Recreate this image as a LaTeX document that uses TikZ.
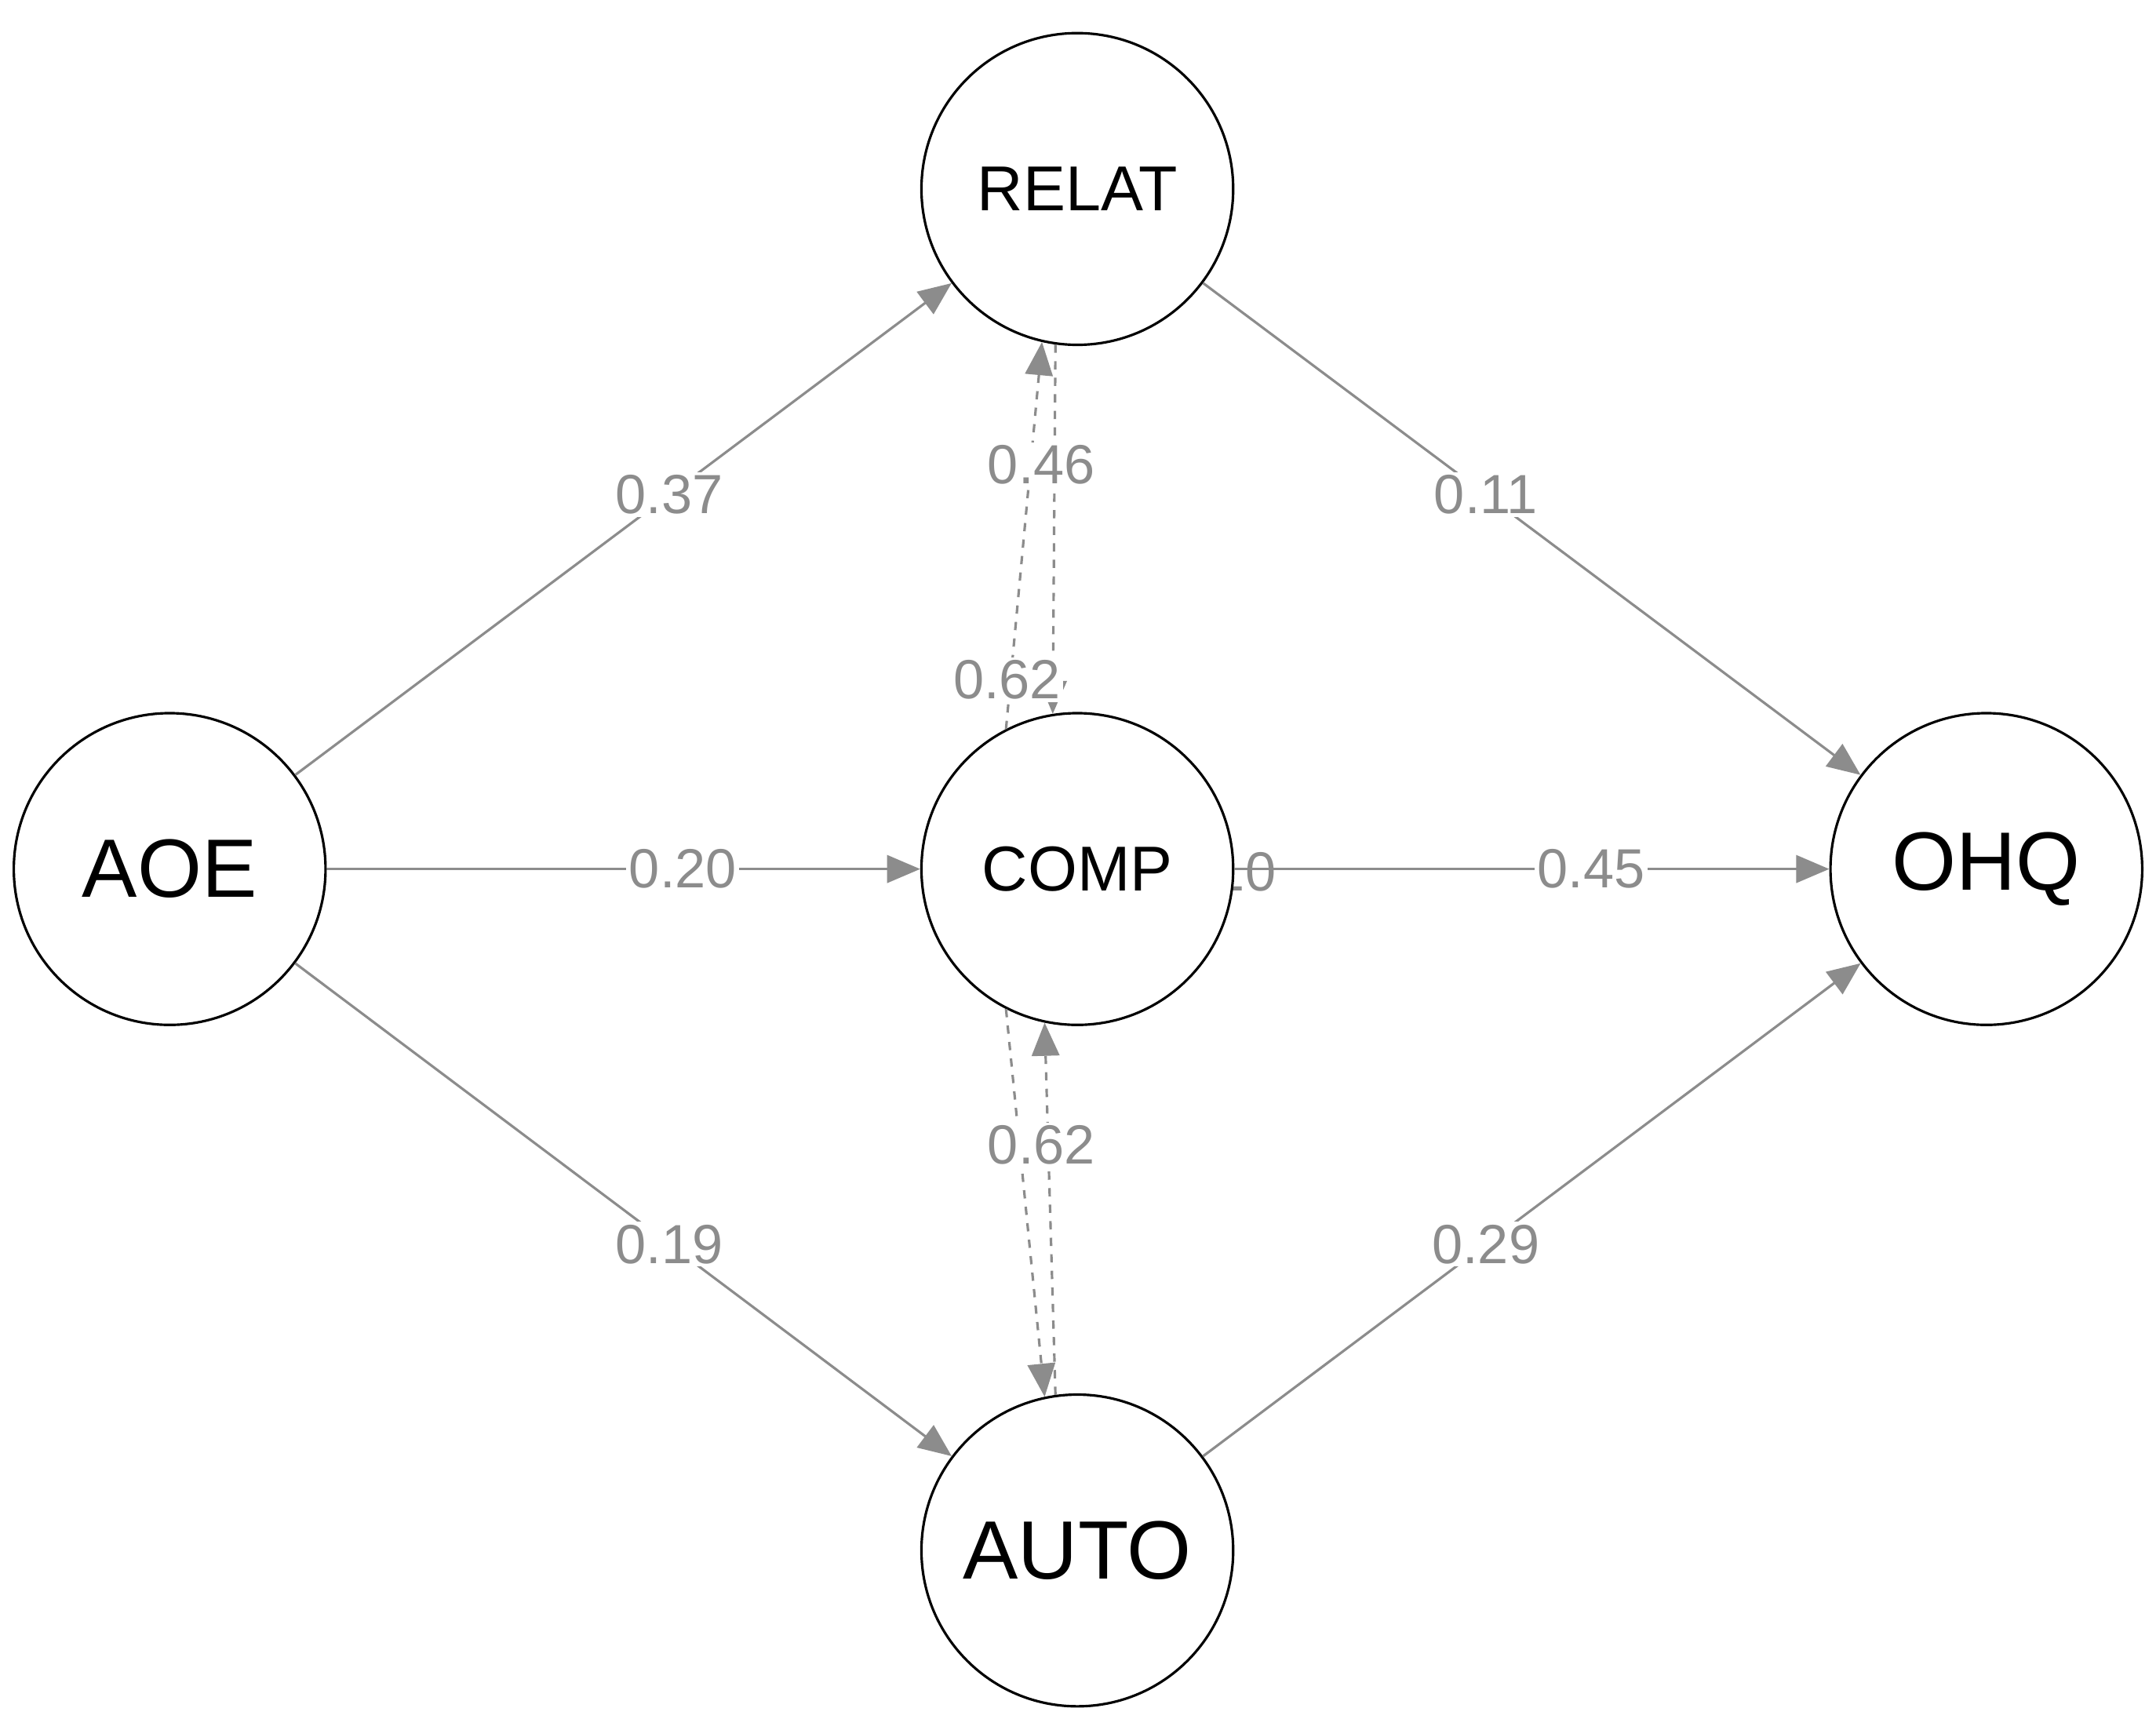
\documentclass[tikz,border=0pt]{standalone}
\usepackage{fontspec}
\setmainfont{Liberation Sans}
\usetikzlibrary{arrows.meta}
\begin{document}
\begin{tikzpicture}[x=0.5pt,y=-0.5pt,
  var/.style={circle,draw=black,line width=0.9pt,fill=white,minimum size=113pt,inner sep=0pt},
  big/.style={font=\fontsize{30}{32}\selectfont},
  small/.style={font=\fontsize{23}{25}\selectfont},
  path/.style={draw=gray!90,line width=0.9pt,-{Triangle[length=12pt,width=10pt]}},
  cov/.style={path,dashed},
  lab/.style={fill=white,inner sep=1pt,text=gray!90,font=\fontsize{20}{22}\selectfont}]
\useasboundingbox (0,0) rectangle (1563,1246);
\node[lab] (hid) at (886,632) {0.10};
\node[var,big] (AOE) at (123,630) {AOE};
\node[var,small] (RELAT) at (781,137) {RELAT};
\node[var,small] (COMP) at (781,630) {COMP};
\node[var,big] (AUTO) at (781,1124) {AUTO};
\node[var,big] (OHQ) at (1440,630) {OHQ};
\draw[path] (AOE) -- node[lab,pos=0.57]{0.37} (RELAT);
\draw[path] (AOE) -- node[lab,pos=0.6]{0.20} (COMP);
\draw[path] (AOE) -- node[lab,pos=0.57]{0.19} (AUTO);
\draw[path] (RELAT) -- node[lab,pos=0.43]{0.11} (OHQ);
\draw[path] (COMP) -- node[lab,pos=0.6]{0.45} (OHQ);
\draw[path] (AUTO) -- node[lab,pos=0.43]{0.29} (OHQ);
\draw[cov] (COMP.117) -- (RELAT.257);
\draw[cov] (RELAT.262) -- (COMP.99);
\draw[cov] (COMP.243) -- (AUTO.102);
\draw[cov] (AUTO.98) -- (COMP.258);
\node[lab] (l1) at (755,337) {0.46};
\node[lab] (l2) at (730,493) {0.62};
\node[lab] (l3) at (755,830) {0.62};
\end{tikzpicture}
\end{document}
